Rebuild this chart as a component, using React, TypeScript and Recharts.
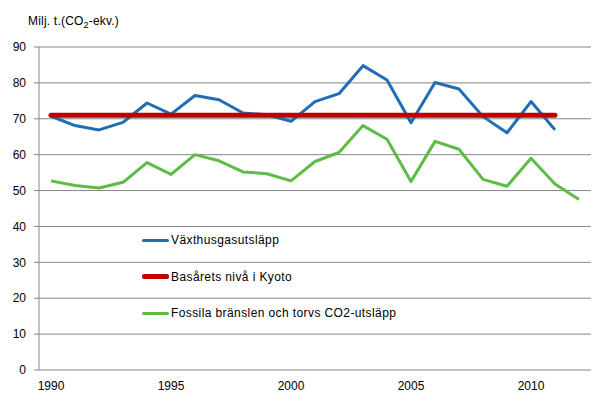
import React from "react";
import { LineChart, Line, XAxis, YAxis, CartesianGrid, Legend } from "recharts";

const years = [1990, 1991, 1992, 1993, 1994, 1995, 1996, 1997, 1998, 1999, 2000, 2001, 2002, 2003, 2004, 2005, 2006, 2007, 2008, 2009, 2010, 2011, 2012];
const ghg = [70.7, 68.1, 66.9, 69.0, 74.4, 71.3, 76.5, 75.3, 71.6, 71.1, 69.3, 74.8, 77.0, 84.8, 80.8, 68.9, 80.1, 78.3, 70.6, 66.1, 74.8, 66.9, null];
const kyoto = [71, 71, 71, 71, 71, 71, 71, 71, 71, 71, 71, 71, 71, 71, 71, 71, 71, 71, 71, 71, 71, 71, null];
const fossil = [52.7, 51.4, 50.7, 52.3, 57.8, 54.5, 60.0, 58.3, 55.2, 54.7, 52.7, 58.1, 60.6, 68.1, 64.3, 52.5, 63.7, 61.5, 53.1, 51.2, 59.0, 51.8, 47.5];
const yTicks = [0, 10, 20, 30, 40, 50, 60, 70, 80, 90];
const labelYears = [1990, 1995, 2000, 2005, 2010];

const seriesNames = ["Växthusgasutsläpp", "Basårets nivå i Kyoto", "Fossila bränslen och torvs CO2-utsläpp"];
const seriesColors = ["#1F6DB5", "#C00000", "#5CBC45"];
const seriesWidths = [3, 5, 3];

const data = years.map((y, i) => ({ year: y, ghg: ghg[i], kyoto: kyoto[i], fossil: fossil[i] }));
const boundaries = [...years.map((y) => y - 0.5), years[years.length - 1] + 0.5];
const domain = [years[0] - 0.5, years[years.length - 1] + 0.5];

const FONT = "'Liberation Sans', Arial, sans-serif";
const GRID = "#868686";

const LegendContent = () => (
  <div style={{ fontFamily: FONT, fontSize: 12, letterSpacing: "0.4px", color: "#000" }}>
    {seriesNames.map((n, i) => (
      <div key={n} style={{ height: 36.5, display: "flex", alignItems: "center", whiteSpace: "nowrap" }}>
        <span style={{ display: "inline-block", width: 27, height: seriesWidths[i], background: seriesColors[i], borderRadius: 2, marginRight: 2 }} />
        <span>{n}</span>
      </div>
    ))}
  </div>
);

export default function App() {
  return (
    <div style={{ position: "absolute", left: 0, top: 0, width: 607, height: 418, background: "#fff" }}>
      <div style={{ position: "absolute", left: 28, top: 13, fontFamily: FONT, fontSize: 12, lineHeight: "16px", color: "#000", letterSpacing: "0.2px" }}>
        Milj. t.(CO<span style={{ fontSize: 9, verticalAlign: "-3px" }}>2</span>-ekv.)
      </div>
      <LineChart width={607} height={418} data={data} margin={{ top: 47, right: 16, left: 0, bottom: 18 }}>
        <CartesianGrid xAxisId="marks" vertical={false} stroke={GRID} strokeWidth={1} />
        <XAxis
          xAxisId="marks"
          dataKey="year"
          type="number"
          domain={domain}
          ticks={boundaries}
          interval={0}
          tickFormatter={() => ""}
          tickSize={5}
          stroke={GRID}
          height={0}
          allowDataOverflow
        />
        <XAxis
          xAxisId="labels"
          dataKey="year"
          type="number"
          domain={domain}
          ticks={labelYears}
          interval={0}
          axisLine={false}
          tickLine={false}
          tickSize={4}
          tickMargin={7}
          height={30}
          tick={{ fill: "#000", fontSize: 12, fontFamily: FONT }}
          allowDataOverflow
        />
        <YAxis
          domain={[0, 90]}
          ticks={yTicks}
          interval={0}
          width={39}
          tickSize={5}
          tickMargin={8}
          stroke={GRID}
          tick={{ fill: "#000", fontSize: 12, fontFamily: FONT }}
        />
        <Legend layout="vertical" align="center" verticalAlign="middle" content={<LegendContent />} wrapperStyle={{ position: "absolute", left: 142, top: 222, width: "auto" }} />
        <Line xAxisId="marks" dataKey="ghg" name={seriesNames[0]} stroke={seriesColors[0]} strokeWidth={seriesWidths[0]} dot={false} isAnimationActive={false} strokeLinejoin="round" />
        <Line xAxisId="marks" dataKey="kyoto" name={seriesNames[1]} stroke={seriesColors[1]} strokeWidth={seriesWidths[1]} dot={false} isAnimationActive={false} strokeLinecap="round" />
        <Line xAxisId="marks" dataKey="fossil" name={seriesNames[2]} stroke={seriesColors[2]} strokeWidth={seriesWidths[2]} dot={false} isAnimationActive={false} strokeLinejoin="round" />
      </LineChart>
    </div>
  );
}
